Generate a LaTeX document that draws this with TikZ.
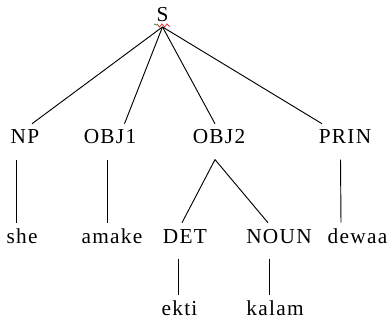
\documentclass[tikz,border=0pt]{standalone}
\usepackage{fontspec}
\setmainfont{Liberation Serif}[LetterSpace=6]
\usetikzlibrary{calc}
\definecolor{spellred}{RGB}{235,45,45}
\definecolor{spellgreen}{RGB}{40,170,60}

\begin{document}
\begin{tikzpicture}[x=0.75pt, y=-0.75pt,
  word/.style={font=\fontsize{16pt}{19pt}\selectfont, anchor=base, inner xsep=0pt, inner ysep=5pt, text height=10pt, text depth=6.5pt},
  leaf/.style={word, inner ysep=1pt, text height=14pt, text depth=0pt},
  edge/.style={line width=0.7pt}]
  \useasboundingbox (0,0) rectangle (388,320);

  % Root
  \node[word, inner ysep=3.5pt, text depth=0pt] (S) at (162.5,22) {S};
  \draw[spellgreen, line width=0.6pt] (154,24) -- (157,25);
  \draw[spellred, line width=0.6pt] (157,24) -- (159.5,27) -- (162,24) -- (164.5,27) -- (167,24) -- (169.5,26.5);

  % First level
  \node[word] (NP) at (25,144) {NP};
  \node[word] (OBJ1) at (110,144) {OBJ1};
  \node[word] (OBJ2) at (219,144) {OBJ2};
  \node[word] (PRIN) at (345,144) {PRIN};

  % Second level
  \node[word] (she) at (22,243) {she};
  \node[word] (amake) at (112,243) {amake};
  \node[word] (DET) at (185,243) {DET};
  \node[word] (NOUN) at (279,243) {NOUN};
  \node[word] (dewaa) at (357.5,243) {dewaa};

  % Third level
  \node[leaf] (ekti) at (179.5,315) {ekti};
  \node[leaf] (kalam) at (275,315) {kalam};

  % Root to the first level
  \draw[edge] (S.south) -- ($(NP.north)+(7,0)$);
  \draw[edge] (S.south) -- ($(OBJ1.north)+(14.5,0)$);
  \draw[edge] (S.south) -- ($(OBJ2.north)+(-4,0)$);
  \draw[edge] (S.south) -- ($(PRIN.north)+(-23,0)$);

  % Down to the words
  \draw[edge] ($(NP.south)+(-9,0)$) -- ($(she.north)+(-6,0)$);
  \draw[edge] ($(OBJ1.south)+(-3,0)$) -- ($(amake.north)+(-5,0)$);
  \draw[edge] ($(PRIN.south)+(-4.5,0)$) -- ($(dewaa.north)+(-16.5,0)$);

  % OBJ2 splits into DET and NOUN
  \draw[edge] ($(DET.north)+(-3,0)$) -- ($(OBJ2.south)+(-4,0)$) -- ($(NOUN.north)+(-11,0)$);
  \draw[edge] ($(DET.south)+(-6.5,0)$) -- ($(ekti.north)+(-1,0)$);
  \draw[edge] ($(NOUN.south)+(-10,0)$) -- ($(kalam.north)+(-6,0)$);
\end{tikzpicture}
\end{document}
